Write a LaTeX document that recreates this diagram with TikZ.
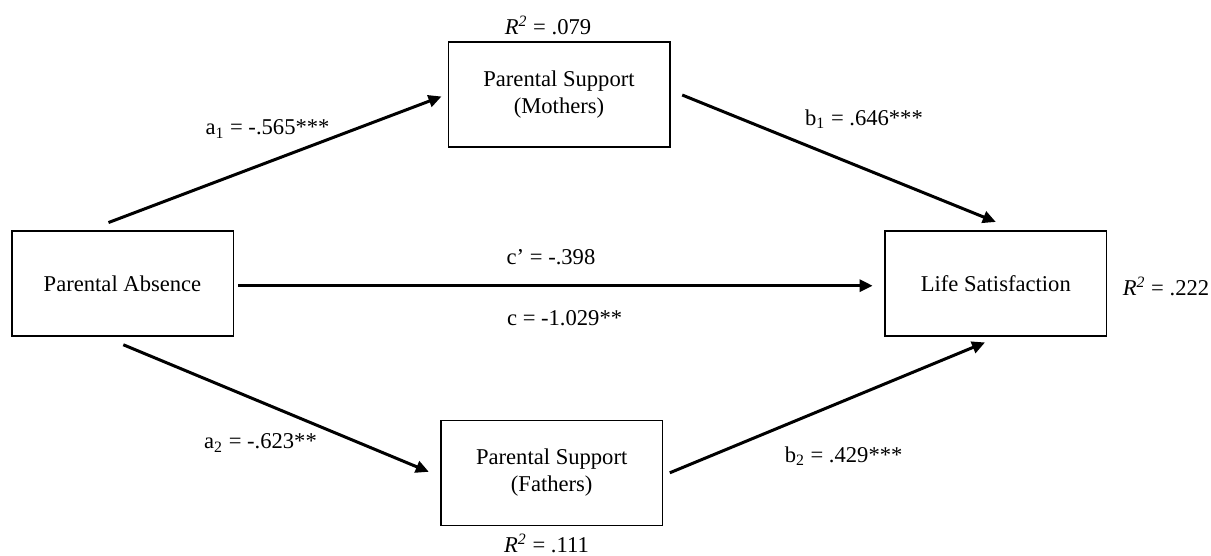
\documentclass[tikz,border=0pt]{standalone}
\usepackage{fontspec}
\setmainfont{Liberation Serif}
\usetikzlibrary{arrows.meta}
\tikzset{
    varbox/.style={draw, line width=0.75pt, align=center, minimum width=110.75pt, minimum height=52.5pt, font=\fontsize{11.3}{13.5}\selectfont},
    coef/.style={font=\fontsize{11.3}{13.5}\selectfont},
    path/.style={line width=1.5pt, -{Triangle[length=6.5pt,width=6pt]}}
}
\newcommand{\rsq}[1]{\textit{R\textsuperscript{2}} = #1}
\begin{document}
\begin{tikzpicture}[x=0.5pt, y=-0.5pt]
    \useasboundingbox (0,0) rectangle (1211,556);
    \node[varbox] (absence) at (122.5,283.5) {Parental Absence};
    \node[varbox] (mothers) at (559,94.5) {Parental Support\\(Mothers)};
    \node[varbox] (fathers) at (551.7,472.8) {Parental Support\\(Fathers)};
    \node[varbox] (life) at (995.8,283.5) {Life Satisfaction};
    % paths
    \draw[path] ([shift={(-14,-7.7)}]absence.north) -- ([shift={(-6,2)}]mothers.west);
    \draw[path] ([shift={(11.7,0.5)}]mothers.east) -- ([shift={(0,-8.3)}]life.north);
    \draw[path] ([shift={(4,2.2)}]absence.east) -- ([shift={(-11.7,2.2)}]life.west);
    \draw[path] ([shift={(0.8,8)}]absence.south) -- ([shift={(-11.4,-1)}]fathers.west);
    \draw[path] ([shift={(6.6,0)}]fathers.east) -- ([shift={(-10.8,5.7)}]life.south);
    % coefficients
    \node[coef] (r2m) at (548,25) {\rsq{.079}};
    \node[coef] (a1) at (267.5,129) {a\textsubscript{1} = -.565***};
    \node[coef] (b1) at (864,119) {b\textsubscript{1} = .646***};
    \node[coef] (cp) at (551,257) {c’ = -.398};
    \node[coef] (c) at (564.6,318) {c = -1.029**};
    \node[coef] (r2l) at (1166,286) {\rsq{.222}};
    \node[coef] (a2) at (260.5,443) {a\textsubscript{2} = -.623**};
    \node[coef] (b2) at (843.6,456) {b\textsubscript{2} = .429***};
    \node[coef] (r2f) at (546.5,543) {\rsq{.111}};
\end{tikzpicture}
\end{document}
